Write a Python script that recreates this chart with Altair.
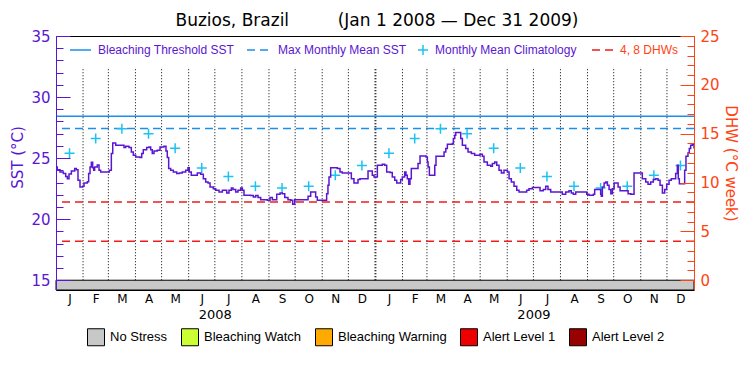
import altair as alt
import pandas as pd

# ---------------- data ----------------
TITLE_SITE = "Buzios, Brazil"
TITLE_RANGE = "(Jan 1 2008 \u2014 Dec 31 2009)"
START_DATE = "2008-01-01"
END_DATE = "2010-01-01"
YEARS = [2008, 2009]

# (day since Jan 1 2008, SST degC)
SST_READINGS = [
    (0, 24.28), (1.5, 24.05), (4.6, 23.87), (8.4, 23.73), (11.1, 23.5), (13, 23.32),
    (14.9, 23.7), (17.6, 23.95), (21.4, 24.14), (23.3, 24.05), (25.2, 23.19), (27.5, 22.64),
    (30.6, 22.7), (32.1, 22.96), (35.9, 23.07), (37.4, 23.73), (39, 24.28), (40.5, 24.66),
    (42, 24.22), (43.2, 24.01), (44.3, 24.28), (47.3, 24.44), (49.3, 24.01), (51.2, 23.87),
    (58.8, 23.87), (61.1, 24.01), (63.4, 25.37), (65, 26.24), (68.4, 26.05), (76, 26.05),
    (77.9, 25.86), (79.9, 25.97), (83.6, 25.86), (86.3, 25.5), (88.6, 25.23), (91.3, 25.1),
    (96.2, 25.05), (98.2, 25.37), (100, 25.69), (103.9, 25.86), (106.6, 25.91), (108.5, 25.69),
    (110.3, 25.37), (112.3, 25.59), (116.1, 25.64), (119.2, 25.91), (123.7, 25.97), (126, 25.59),
    (127.5, 25.05), (129.1, 24.14), (131.4, 24.01), (134.4, 23.87), (138.3, 23.73), (141.3, 23.78),
    (144.7, 23.87), (148.6, 24.01), (151.2, 24.22), (152.7, 23.87), (155, 23.6), (158.1, 23.6),
    (161.9, 23.78), (165.8, 23.68), (168.8, 23.32), (171.5, 23.05), (174.2, 22.96), (176.5, 22.64),
    (180.2, 22.5), (183, 22.37), (186.8, 22.23), (190.6, 22.37), (195.6, 22.14), (198.2, 22.37),
    (200.9, 22.56), (202.8, 22.42), (205.9, 22.23), (208.5, 22.37), (211.6, 22.56), (213.5, 22.37),
    (215.4, 21.96), (223.1, 21.93), (226.1, 21.82), (228.8, 21.93), (231.5, 21.77), (234.5, 21.6),
    (242.1, 21.55), (245.2, 21.77), (247.9, 21.6), (252.9, 22.04), (256.7, 22.14), (259.3, 22.09),
    (262.1, 21.77), (265.8, 21.6), (268.9, 21.55), (271.2, 21.22), (273.5, 21.6), (286.1, 21.6),
    (288.8, 21.87), (291.8, 22.23), (294.8, 22.23), (297.5, 21.82), (299.4, 21.55), (309, 21.55),
    (310.1, 22.09), (311.6, 22.78), (312.8, 23.46), (314.7, 24.22), (316.6, 24.22), (322.3, 24.14),
    (325.4, 23.87), (328, 23.78), (335.7, 23.78), (338.4, 23.32), (341.4, 22.96), (344.5, 22.96),
    (346, 23.24), (348.3, 23.32), (354.8, 23.32), (357.5, 23.95), (360.5, 23.95), (362.4, 23.6),
    (364.4, 23.46), (368.2, 24.41), (373.9, 24.49), (376.6, 24.41), (378.9, 23.87), (382.7, 23.82),
    (385.3, 23.46), (388.1, 23.19), (390.4, 22.96), (393, 22.96), (394.9, 23.24), (396.8, 23.46),
    (399.5, 23.87), (401, 23.6), (402.5, 23.32), (404.1, 22.86), (405.6, 23.32), (407.1, 24.14),
    (412.2, 24.14), (414.8, 24.55), (417.1, 25.18), (421.7, 25.18), (424, 25.1), (425.5, 24.69),
    (426.3, 24.28), (427.8, 23.6), (432.4, 23.6), (434, 24.41), (435.4, 25.15), (442.7, 25.15),
    (444.6, 25.5), (446.6, 25.78), (448.4, 26.14), (454.2, 26.19), (455.3, 26.6), (456.9, 26.87),
    (458, 27.09), (461.8, 27.09), (463.7, 26.6), (465.6, 26.05), (469.4, 25.78), (472.1, 25.5),
    (475.9, 25.37), (479.7, 25.23), (482.8, 25.23), (485.8, 25.32), (488.5, 25.15), (490.4, 24.69),
    (494.2, 24.41), (498.1, 24.33), (500, 24.55), (502.7, 24.69), (505, 24.41), (507.6, 24.01),
    (510.3, 23.78), (513.3, 24.01), (517.2, 23.87), (519.1, 23.32), (521.7, 23.05), (524.8, 22.7),
    (527.9, 22.37), (530.5, 22.23), (536.2, 22.23), (539.3, 22.37), (541.9, 22.5), (545.8, 22.59),
    (549.6, 22.59), (554.6, 22.32), (558.3, 22.42), (561.1, 22.7), (563.7, 22.42), (566.8, 22.23),
    (576.3, 22.23), (580.1, 22.04), (584, 22.23), (587.8, 22.32), (590.4, 22.14), (592.7, 22.04),
    (595.5, 22.23), (605, 22.23), (608.1, 22.04), (610.7, 21.96), (615.7, 22.04), (617.2, 22.42),
    (622.2, 22.42), (624.1, 22.04), (624.8, 21.87), (626, 22.64), (628, 22.96), (629.9, 23.05),
    (631.8, 22.78), (633.7, 22.42), (635.7, 22.09), (637.5, 22.5), (639.5, 22.96), (642.5, 22.96),
    (644, 22.64), (646.3, 22.32), (652.8, 22.32), (655.5, 22.09), (658.6, 22.04), (660.4, 22.04),
    (662.3, 23.78), (670, 23.78), (671.8, 23.32), (675.7, 23.05), (678.3, 22.86), (681.4, 23.05),
    (684.4, 23.24), (687.1, 23.32), (689.8, 23.19), (692.1, 22.78), (694.8, 22.14), (697.4, 22.42),
    (699.7, 22.86), (702.4, 23.19), (705, 23.32), (708.1, 23.32), (710, 23.73), (711.9, 24.41),
    (713, 23.32), (714.2, 22.91), (718.8, 22.91), (720.3, 24.01), (721.8, 25.15), (724.1, 25.42),
    (725.6, 25.78), (727.2, 26.05), (729.1, 26.14), (731, 25.78),
]

CLIMATOLOGY = [25.4, 26.6, 27.4, 27.0, 25.8, 24.2, 23.5, 22.7, 22.55, 22.7, 23.6, 24.4]  # Jan..Dec
MMM_SST = 27.42
BLEACHING_THRESHOLD = 28.42
DHW_LINES = [4, 8]

SST_TICKS = [15, 20, 25, 30, 35]
SST_MINOR = list(range(15, 36))
DHW_TICKS = [0, 5, 10, 15, 20, 25]
DHW_MINOR = list(range(0, 26))

STRESS_LABELS = ["No Stress", "Bleaching Watch", "Bleaching Warning", "Alert Level 1", "Alert Level 2"]
STRESS_COLORS = ["#c8c8c8", "#ccff33", "#ffaa00", "#ee0000", "#990000"]
CURRENT_STRESS = "No Stress"

LEGEND_LABELS = ["Bleaching Threshold SST", "Max Monthly Mean SST", "Monthly Mean Climatology", "4, 8 DHWs"]

# ---------------- styles ----------------
W, H = 638, 254
SST_DOMAIN = [14.2, 35]
DHW_DOMAIN = [-1.0, 25]
PURPLE = "#5a16d0"
BLUE = "#1a8ff0"
CYAN = "#1cc3f2"
RED = "#ee1c1c"
ORANGE = "#ff4412"
FONT = "DejaVu Sans"
LFONT = "Liberation Sans"
CROSS = "M-1,0H1M0,-1V1"

# ---------------- helpers ----------------
DAY_MS = 86400000


def to_ms(s):
    return int(pd.Timestamp(s, tz="UTC").timestamp() * 1000)


T0, T1 = to_ms(START_DATE), to_ms(END_DATE)
month_starts = [int(t.timestamp() * 1000) for t in pd.date_range(START_DATE, END_DATE, freq="MS", tz="UTC")]
month_mids = [(a + b) // 2 for a, b in zip(month_starts[:-1], month_starts[1:])]
year_mids = [to_ms(f"{y}-07-01") for y in YEARS]
year_break = to_ms(f"{YEARS[1]}-01-01")

sst_df = pd.DataFrame({"t": [int(T0 + d * DAY_MS) for d, _ in SST_READINGS],
                       "sst": [v for _, v in SST_READINGS]})
clim_df = pd.DataFrame({"t": month_mids, "clim": CLIMATOLOGY * len(YEARS)})
lines_df = pd.DataFrame({"t": month_starts[1:-1]})
band_df = pd.DataFrame({"start": [T0], "end": [T1], "stress": [CURRENT_STRESS]})
thr_df = pd.DataFrame({"v": [BLEACHING_THRESHOLD]})
mmm_df = pd.DataFrame({"v": [MMM_SST]})
dhw_df = pd.DataFrame({"dhw": DHW_LINES})

x_scale = alt.Scale(type="utc", domain=[T0, T1], nice=False)
sst_scale = alt.Scale(domain=SST_DOMAIN, nice=False, zero=False)
dhw_scale = alt.Scale(domain=DHW_DOMAIN, nice=False, zero=False)

common = dict(grid=False, zindex=1, labelFlush=False)

month_axis = alt.Axis(orient="bottom", values=month_mids,
                      labelExpr="substring(utcFormat(datum.value, '%b'), 0, 1)",
                      ticks=False, domain=True, domainColor="black", domainWidth=1,
                      labelFont=FONT, labelFontSize=12, labelColor="black", labelPadding=3,
                      labelAngle=0, title=None, **common)
year_axis = alt.Axis(orient="bottom", values=year_mids, labelExpr="utcFormat(datum.value, '%Y')",
                     ticks=False, domain=False, labelFont=FONT, labelFontSize=13,
                     labelColor="black", labelPadding=18, labelAngle=0, title=None, **common)
top_axis = alt.Axis(orient="top", labels=False, ticks=False, domain=True, domainColor="black",
                    title=None, **common)

sst_major = alt.Axis(orient="left", values=SST_TICKS, offset=-14, tickSize=14, tickColor=PURPLE,
                     domain=False, labelFont=FONT, labelFontSize=15, labelColor=PURPLE, labelPadding=6,
                     title="SST (\u00b0C)", titleFont=FONT, titleFontSize=15, titleFontWeight="normal",
                     titleColor=PURPLE, titleX=-53, titleY=121, titleAngle=270, titleAlign="center",
                     titleBaseline="middle", **common)
sst_minor = alt.Axis(orient="left", values=SST_MINOR, offset=-7, tickSize=7, tickColor=PURPLE,
                     domain=False, labels=False, title=None, **common)
sst_line_axis = alt.Axis(orient="left", ticks=False, labels=False, domain=True, domainColor=PURPLE,
                         title=None, **common)

dhw_major = alt.Axis(orient="right", values=DHW_TICKS, offset=-14, tickSize=14, tickColor=ORANGE,
                     domain=False, labelFont=FONT, labelFontSize=15, labelColor=ORANGE, labelPadding=6,
                     title="DHW (\u00b0C week)", titleFont=FONT, titleFontSize=15, titleFontWeight="normal",
                     titleColor=ORANGE, titleX=50, titleY=127, titleAngle=90, titleAlign="center",
                     titleBaseline="middle", **common)
dhw_minor = alt.Axis(orient="right", values=DHW_MINOR, offset=-7, tickSize=7, tickColor=ORANGE,
                     domain=False, labels=False, title=None, **common)
dhw_line_axis = alt.Axis(orient="right", ticks=False, labels=False, domain=True, domainColor=ORANGE,
                         title=None, **common)

# ---------------- layers ----------------
band = alt.Chart(band_df).mark_rect(stroke="black", strokeWidth=1).encode(
    x=alt.X("start:T", scale=x_scale, axis=year_axis),
    x2="end:T",
    y=alt.YDatum(15, type="quantitative", scale=sst_scale, axis=None),
    y2=alt.value(H),
    color=alt.Color("stress:N", scale=alt.Scale(domain=STRESS_LABELS, range=STRESS_COLORS),
                    legend=alt.Legend(orient="none", legendX=31, legendY=292, direction="horizontal",
                                      title=None, symbolType="square", symbolSize=289,
                                      symbolStrokeColor="black", symbolStrokeWidth=1,
                                      labelFont=LFONT, labelFontSize=13, labelColor="black",
                                      labelOffset=5, columnPadding=11, padding=0)),
)

month_lines = alt.Chart(lines_df).mark_rule(color="black", strokeDash=[1, 2]).encode(
    x=alt.X("t:T", scale=x_scale, axis=top_axis),
    y=alt.YDatum(15, type="quantitative", scale=sst_scale, axis=None),
    y2=alt.Y2Datum(32.45),
    strokeWidth=alt.condition(f"datum.t == {year_break}", alt.value(2), alt.value(1)),
)

threshold = alt.Chart(thr_df).mark_rule(color=BLUE, strokeWidth=1.5).encode(
    y=alt.Y("v:Q", scale=sst_scale, axis=sst_minor))
mmm = alt.Chart(mmm_df).mark_rule(color=BLUE, strokeWidth=1.5, strokeDash=[8, 5]).encode(
    y=alt.Y("v:Q", scale=sst_scale, axis=sst_line_axis))

dhw_rules = alt.Chart(dhw_df).mark_rule(color=RED, strokeWidth=1.5, strokeDash=[8, 5]).encode(
    y=alt.Y("dhw:Q", scale=dhw_scale, axis=dhw_major))
dhw_minor_carrier = alt.Chart(dhw_df).mark_rule(opacity=0).encode(
    y=alt.Y("dhw:Q", scale=dhw_scale, axis=dhw_minor))
dhw_line_carrier = alt.Chart(dhw_df).mark_rule(opacity=0).encode(
    y=alt.Y("dhw:Q", scale=dhw_scale, axis=dhw_line_axis))

clim = alt.Chart(clim_df).mark_point(shape=CROSS, size=100, filled=False, color=CYAN,
                                     strokeWidth=1.5, opacity=1).encode(
    x=alt.X("t:T", scale=x_scale, axis=None),
    y=alt.Y("clim:Q", scale=sst_scale, axis=None),
)

sst_line = alt.Chart(sst_df).mark_line(color=PURPLE, strokeWidth=1.5, interpolate="step-after").encode(
    x=alt.X("t:T", scale=x_scale, axis=month_axis),
    y=alt.Y("sst:Q", scale=sst_scale, axis=sst_major),
)

# top legend (inside the plot)
LEG_Y = 14


def leg_df(i):
    return pd.DataFrame({"label": [LEGEND_LABELS[i]]})


leg1_sym = alt.Chart(leg_df(0)).mark_rule(color=BLUE, strokeWidth=1.5).encode(
    x=alt.value(14), x2=alt.value(35), y=alt.value(LEG_Y))
leg2_sym = alt.Chart(leg_df(1)).mark_rule(color=BLUE, strokeWidth=1.5, strokeDash=[8, 5]).encode(
    x=alt.value(191), x2=alt.value(214), y=alt.value(LEG_Y))
leg3_sym = alt.Chart(leg_df(2)).mark_point(shape=CROSS, size=100, filled=False, color=CYAN,
                                           strokeWidth=1.5, opacity=1).encode(
    x=alt.value(367), y=alt.value(LEG_Y))
leg4_sym = alt.Chart(leg_df(3)).mark_rule(color=RED, strokeWidth=1.5, strokeDash=[8, 5]).encode(
    x=alt.value(536), x2=alt.value(557), y=alt.value(LEG_Y))


def leg_text(i, xpos, color):
    return alt.Chart(leg_df(i)).mark_text(align="left", baseline="middle", font=LFONT,
                                          fontSize=12, color=color).encode(
        x=alt.value(xpos), y=alt.value(LEG_Y), text="label:N")


legend_layers = [leg1_sym, leg_text(0, 42, PURPLE), leg2_sym, leg_text(1, 222, PURPLE),
                 leg3_sym, leg_text(2, 379, PURPLE), leg4_sym, leg_text(3, 564, ORANGE)]

chart = alt.layer(
    band, month_lines, threshold, mmm, dhw_rules, dhw_minor_carrier, dhw_line_carrier,
    clim, sst_line, *legend_layers
).resolve_scale(y="independent").resolve_axis(x="independent", y="independent").properties(
    width=W, height=H,
    title=alt.TitleParams(text=TITLE_SITE + "\u00a0" * 9 + TITLE_RANGE, font=FONT, fontSize=17,
                          fontWeight="normal", color="black", anchor="middle", offset=-1, dx=2),
    autosize=alt.AutoSizeParams(type="none"),
    padding={"left": 48, "top": 28, "right": 48, "bottom": 70},
).configure_view(stroke=None).configure(background="white")

chart.save("out.html", embed_options={"renderer": "svg", "actions": False})
